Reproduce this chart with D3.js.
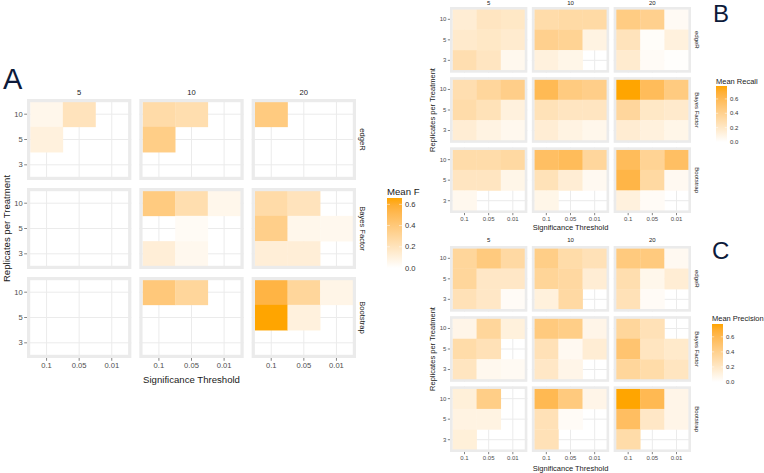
<!DOCTYPE html>
<html><head><meta charset="utf-8">
<script src="https://cdn.jsdelivr.net/npm/d3@7"></script>
<style>html,body{margin:0;padding:0;background:#fff;} svg{display:block;font-family:"Liberation Sans",Arial,sans-serif;}</style>
</head><body>
<svg id="chart" width="764" height="473"></svg>
<script>
// ---------- data ----------
const groups = ["5", "10", "20"];            // facet columns
const reps = ["10", "5", "3"];               // replicates per treatment (top to bottom)
const thresholds = ["0.1", "0.05", "0.01"];  // significance thresholds
const methods = ["edgeR", "Bayes Factor", "Bootstrap"];
const legendTicks = [0, 0.2, 0.4, 0.6];

// values indexed [group][replicate][threshold]
const meanF_edgeR = [
  [[0.06, 0.20, 0], [0.10, 0, 0], [0, 0, 0]],
  [[0.26, 0.24, 0], [0.36, 0, 0], [0, 0, 0]],
  [[0.38, 0, 0], [0, 0, 0], [0, 0, 0]]
];
const meanF_bayes = [
  [[0, 0, 0], [0, 0, 0], [0, 0, 0]],
  [[0.38, 0.24, 0.06], [0, 0.03, 0], [0.12, 0.05, 0]],
  [[0.26, 0.20, 0], [0.35, 0.06, 0.05], [0.12, 0.12, 0]]
];
const meanF_boot = [
  [[0, 0, 0], [0, 0, 0], [0, 0, 0]],
  [[0.40, 0.30, 0], [0, 0, 0], [0, 0, 0]],
  [[0.55, 0.30, 0.07], [0.66, 0.10, 0], [0, 0, 0]]
];

const recall_edgeR = [
  [[0.15, 0.22, 0.20], [0.18, 0.20, 0.17], [0.28, 0.22, 0.06]],
  [[0.30, 0.32, 0.32], [0.40, 0.38, 0.10], [0.12, 0.08, 0]],
  [[0.44, 0.40, 0.04], [0.24, 0.02, 0.12], [0.17, 0.03, 0.01]]
];
const recall_bayes = [
  [[0.28, 0.35, 0.42], [0.30, 0.25, 0.12], [0.15, 0.10, 0.06]],
  [[0.60, 0.45, 0.42], [0.25, 0.22, 0.22], [0.15, 0.10, 0.07]],
  [[0.78, 0.58, 0.45], [0.35, 0.20, 0.18], [0.16, 0.12, 0.08]]
];
const recall_boot = [
  [[0.30, 0.30, 0.33], [0.22, 0.22, 0.08], [0.06, 0, 0]],
  [[0.55, 0.58, 0.35], [0.25, 0.15, 0.05], [0.08, 0, 0]],
  [[0.58, 0.38, 0.55], [0.64, 0.33, 0.05], [0.12, 0.03, 0]]
];

const prec_edgeR = [
  [[0.35, 0.45, 0.32], [0.35, 0.20, 0.20], [0.25, 0.20, 0.03]],
  [[0.42, 0.30, 0.25], [0.36, 0.33, 0.15], [0.12, 0.32, 0]],
  [[0.45, 0.45, 0.05], [0.28, 0.07, 0.15], [0.25, 0.03, 0]]
];
const prec_bayes = [
  [[0.08, 0.35, 0.12], [0.30, 0.25, 0], [0.22, 0.06, 0.04]],
  [[0.45, 0.42, 0.08], [0.25, 0.05, 0.15], [0.20, 0.08, 0]],
  [[0.35, 0.25, 0], [0.50, 0.22, 0.18], [0.35, 0.30, 0.22]]
];
const prec_boot = [
  [[0.13, 0.42, 0], [0.10, 0.10, 0], [0.13, 0, 0]],
  [[0.60, 0.45, 0.08], [0.25, 0.03, 0], [0.25, 0, 0]],
  [[0.77, 0.60, 0.08], [0.55, 0.20, 0.08], [0.30, 0, 0]]
];

// ---------- drawing ----------
const svg = d3.select("#chart");
const defs = svg.append("defs");
const LOW = "#ffffff", HIGH = "#ffa500";
const GRID = "#ebebeb";

function toRows(arrs) {
  const rows = [];
  arrs.forEach((arr, mi) => arr.forEach((g, gi) => g.forEach((r, ri) => r.forEach((v, ti) => {
    rows.push({method: methods[mi], group: groups[gi], rep: reps[ri], thr: thresholds[ti], value: v});
  }))));
  return rows;
}

function drawFacet(L) {
  const rows = toRows(L.data);
  const vmax = d3.max(rows, d => d.value);
  const color = d3.scaleLinear().domain([0, vmax]).range([LOW, HIGH]).interpolate(d3.interpolateLab);
  const g = svg.append("g");

  const colStep = (L.x1 - L.x0 + L.gap) / groups.length;
  const colBand = d3.scaleBand().domain(groups).range([L.x0, L.x1]).paddingInner(L.gap / colStep);
  const rowStep = (L.y1 - L.y0 + L.gap) / methods.length;
  const rowBand = d3.scaleBand().domain(methods).range([L.y0, L.y1]).paddingInner(L.gap / rowStep);

  groups.forEach(grp => {
    const px = colBand(grp), pw = colBand.bandwidth();
    const x = d3.scaleBand().domain(thresholds).range([px, px + pw]).paddingInner(0).paddingOuter(0.1);
    methods.forEach(m => {
      const py = rowBand(m), ph = rowBand.bandwidth();
      const y = d3.scaleBand().domain(reps).range([py, py + ph]).paddingInner(0).paddingOuter(0.1);
      const p = g.append("g");
      p.append("rect").attr("x", px).attr("y", py).attr("width", pw).attr("height", ph).attr("fill", "#fff");
      thresholds.forEach(t => p.append("line").attr("x1", x(t) + x.bandwidth() / 2).attr("x2", x(t) + x.bandwidth() / 2)
        .attr("y1", py).attr("y2", py + ph).attr("stroke", GRID).attr("stroke-width", 1));
      reps.forEach(r => p.append("line").attr("y1", y(r) + y.bandwidth() / 2).attr("y2", y(r) + y.bandwidth() / 2)
        .attr("x1", px).attr("x2", px + pw).attr("stroke", GRID).attr("stroke-width", 1));
      p.selectAll("rect.tile").data(rows.filter(d => d.group === grp && d.method === m && d.value > 0))
        .join("rect").attr("class", "tile")
        .attr("x", d => x(d.thr)).attr("y", d => y(d.rep))
        .attr("width", x.bandwidth() + 0.3).attr("height", y.bandwidth() + 0.3)
        .attr("fill", d => color(d.value));
      const bw = L.border;
      p.append("rect").attr("x", px + bw / 2).attr("y", py + bw / 2).attr("width", pw - bw).attr("height", ph - bw)
        .attr("fill", "none").attr("stroke", GRID).attr("stroke-width", bw);

      // y axis on first column
      if (grp === groups[0]) {
        const ya = g.append("g").attr("transform", `translate(${px},0)`)
          .call(d3.axisLeft(y).tickSize(L.tick).tickPadding(1.5));
        ya.select(".domain").remove();
        ya.selectAll("line").attr("stroke", "#333").attr("stroke-width", 0.6);
        ya.selectAll("text").attr("font-size", L.fTick).attr("fill", "#4d4d4d").attr("font-family", null);
      }
      // x axis on bottom row
      if (m === methods[methods.length - 1]) {
        const xa = g.append("g").attr("transform", `translate(0,${py + ph})`)
          .call(d3.axisBottom(x).tickSize(L.tick).tickPadding(2));
        xa.select(".domain").remove();
        xa.selectAll("line").attr("stroke", "#333").attr("stroke-width", 0.6);
        xa.selectAll("text").attr("font-size", L.fTick).attr("fill", "#4d4d4d").attr("font-family", null);
      }
    });
    // top strip
    g.append("text").attr("x", px + pw / 2).attr("y", L.stripTop)
      .attr("text-anchor", "middle").attr("font-size", L.fStrip).attr("fill", "#1a1a1a").text(grp);
  });
  // right strips
  methods.forEach(m => {
    const cy = rowBand(m) + rowBand.bandwidth() / 2;
    g.append("text").attr("transform", `translate(${L.stripRight},${cy}) rotate(90)`)
      .attr("text-anchor", "middle").attr("dy", "0.35em").attr("font-size", L.fStrip).attr("fill", "#1a1a1a").text(m);
  });
  // axis titles
  g.append("text").attr("x", (L.x0 + L.x1) / 2).attr("y", L.xTitleY).attr("text-anchor", "middle")
    .attr("font-size", L.fTitle).attr("fill", "#1a1a1a").text("Significance Threshold");
  g.append("text").attr("transform", `translate(${L.yTitleX},${(L.y0 + L.y1) / 2}) rotate(-90)`)
    .attr("text-anchor", "middle").attr("dy", "0.35em").attr("font-size", L.fTitle).attr("fill", "#1a1a1a")
    .text("Replicates per Treatment");

  // legend
  const gid = "grad" + L.id;
  const grad = defs.append("linearGradient").attr("id", gid).attr("x1", 0).attr("y1", 1).attr("x2", 0).attr("y2", 0);
  d3.range(0, 1.0001, 0.1).forEach(f => grad.append("stop").attr("offset", f).attr("stop-color", color(f * vmax)));
  const ly = d3.scaleLinear().domain([0, vmax]).range([L.legY1, L.legY0]);
  g.append("text").attr("x", L.legX).attr("y", L.legY0 - L.legTitleGap).attr("font-size", L.fTitle)
    .attr("fill", "#1a1a1a").text(L.legTitle);
  g.append("rect").attr("x", L.legX).attr("y", L.legY0).attr("width", L.legW).attr("height", L.legY1 - L.legY0)
    .attr("fill", `url(#${gid})`);
  legendTicks.forEach(t => {
    g.append("line").attr("x1", L.legX).attr("x2", L.legX + L.legW * 0.2).attr("y1", ly(t)).attr("y2", ly(t)).attr("stroke", "#fff").attr("stroke-width", 0.5);
    g.append("line").attr("x1", L.legX + L.legW * 0.8).attr("x2", L.legX + L.legW).attr("y1", ly(t)).attr("y2", ly(t)).attr("stroke", "#fff").attr("stroke-width", 0.5);
    g.append("text").attr("x", L.legX + L.legW + 3).attr("y", ly(t)).attr("dy", "0.35em")
      .attr("font-size", L.fTick).attr("fill", "#333").text(d3.format(".1f")(t));
  });
  // panel letter
  g.append("text").attr("x", L.letterX).attr("y", L.letterY).attr("font-size", L.fLetter)
    .attr("fill", "#0d1a3a").text(L.letter);
}

drawFacet({
  id: "A", data: [meanF_edgeR, meanF_bayes, meanF_boot],
  x0: 27, x1: 356, y0: 99, y1: 358, gap: 8, border: 3.2, tick: 2.8,
  fTick: 7.6, fStrip: 7.6, fTitle: 9.6, stripTop: 95, stripRight: 363,
  xTitleY: 383, yTitleX: 7,
  legX: 387, legY0: 198, legY1: 268, legW: 15, legTitle: "Mean F", legTitleGap: 3,
  letter: "A", letterX: 3, letterY: 89, fLetter: 29
});
drawFacet({
  id: "B", data: [recall_edgeR, recall_bayes, recall_boot],
  x0: 450, x1: 691, y0: 7, y1: 213, gap: 4.5, border: 2.6, tick: 2.2,
  fTick: 6, fStrip: 6, fTitle: 7.5, stripTop: 5, stripRight: 697,
  xTitleY: 230, yTitleX: 432,
  legX: 716, legY0: 86, legY1: 142, legW: 11, legTitle: "Mean Recall", legTitleGap: 2,
  letter: "B", letterX: 713, letterY: 22, fLetter: 24
});
drawFacet({
  id: "C", data: [prec_edgeR, prec_bayes, prec_boot],
  x0: 450, x1: 691, y0: 246, y1: 452, gap: 4.5, border: 2.6, tick: 2.2,
  fTick: 6, fStrip: 6, fTitle: 7.5, stripTop: 242, stripRight: 697,
  xTitleY: 471, yTitleX: 432,
  legX: 712, legY0: 324, legY1: 382, legW: 11, legTitle: "Mean Precision", legTitleGap: 3,
  letter: "C", letterX: 712, letterY: 259, fLetter: 24
});
</script>
</body></html>
